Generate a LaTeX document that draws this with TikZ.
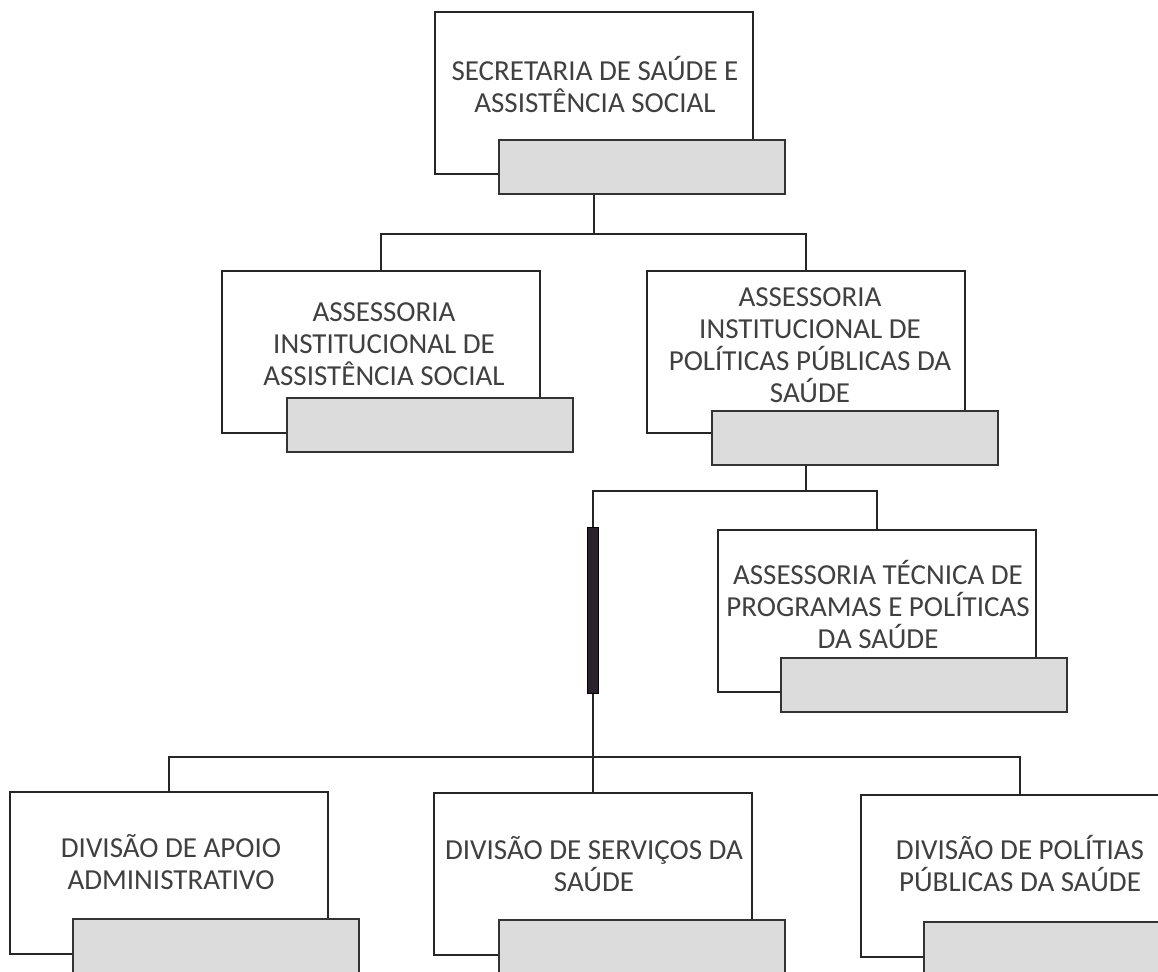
\documentclass[tikz,border=0pt]{standalone}
\usepackage{fontspec}
\setmainfont{Carlito}
\usetikzlibrary{positioning}
\definecolor{tabgrey}{RGB}{220,220,220}
\definecolor{barfill}{RGB}{42,34,42}

\begin{document}
\begin{tikzpicture}[x=.5pt,y=-.5pt,
unit/.style={rectangle,draw=black!85,line width=.8pt,fill=white,inner sep=0pt,minimum width=159pt,minimum height=81pt},
tab/.style={rectangle,draw=black!80,line width=1pt,fill=tabgrey,inner sep=0pt,minimum width=143pt,minimum height=27pt},
lbl/.style={align=center,text=black!75,inner sep=0pt,font=\fontsize{14.5}{16}\selectfont},
link/.style={line width=.8pt,draw=black!85}]
\clip (0,0) rectangle (1158,971);
\fill[white] (0,0) rectangle (1158,971);
% boxes
\node[unit] (Sec) at (594,93) {};
\node[tab] (SecT) at (642,167) {};
\node[lbl] (SecL) at (595,84) {SECRETARIA DE SAÚDE E\\ASSISTÊNCIA SOCIAL};
\node[unit] (Asis) at (381,352) {};
\node[tab] (AsisT) at (430,425) {};
\node[lbl] (AsisL) at (384,344) {ASSESSORIA\\INSTITUCIONAL DE\\ASSISTÊNCIA SOCIAL};
\node[unit] (Aipps) at (806,352) {};
\node[tab] (AippsT) at (855,438) {};
\node[lbl] (AippsL) at (810,345) {ASSESSORIA\\INSTITUCIONAL DE\\POLÍTICAS PÚBLICAS DA\\SAÚDE};
\node[unit] (Atpps) at (877,611) {};
\node[tab] (AtppsT) at (924,685) {};
\node[lbl] (AtppsL) at (878,604) {ASSESSORIA TÉCNICA DE\\PROGRAMAS E POLÍTICAS\\DA SAÚDE};
\node[unit] (Daa) at (169,873) {};
\node[tab] (DaaT) at (216,946) {};
\node[lbl] (DaaL) at (171,862) {DIVISÃO DE APOIO\\ADMINISTRATIVO};
\node[unit] (Dss) at (593,874) {};
\node[tab] (DssT) at (642,947) {};
\node[lbl] (DssL) at (594,864) {DIVISÃO DE SERVIÇOS DA\\SAÚDE};
\node[unit] (Dpps) at (1020,876) {};
\node[tab] (DppsT) at (1067,949) {};
\node[lbl] (DppsL) at (1020,863) {DIVISÃO DE POLÍTIAS\\PÚBLICAS DA SAÚDE};
% links
\draw[link] (Sec.south |- SecT.south) -- ++(0,39) coordinate (J1);
\draw[link] (Asis.north) |- (J1) -| (Aipps.north);
\draw[link] (Aipps.south |- AippsT.south) -- ++(0,25) coordinate (J2);
\draw[link] (J2) -| (Atpps.north);
\draw[link] (J2) -| (Dss.north);
\coordinate (J3) at (593,757);
\draw[link] (Daa.north) |- (J3) -| (Dpps.north);
\node[rectangle,fill=barfill,draw=black,inner sep=0pt,minimum width=5.5pt,minimum height=83pt] (Bar) at (593,610) {};
\end{tikzpicture}
\end{document}
